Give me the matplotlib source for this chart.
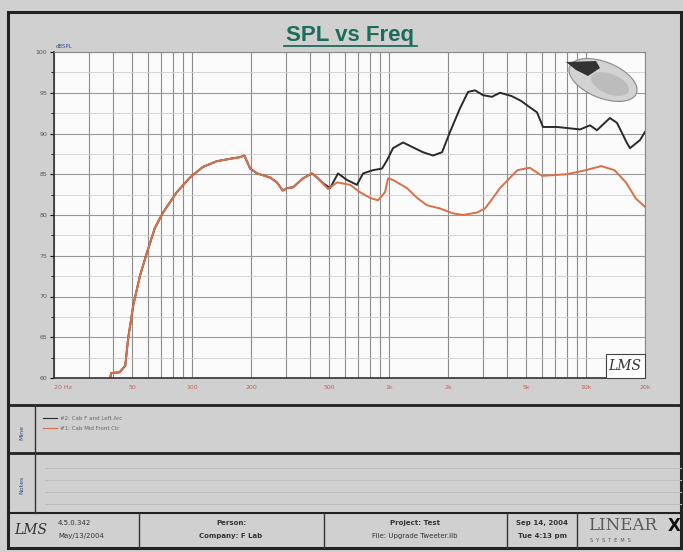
import matplotlib.pyplot as plt
from matplotlib.patches import Ellipse, Polygon, Rectangle

W, H = 683, 552

# curve #2 (black)
freq_black = [36, 39, 43, 46, 47.6, 50.5, 54.7, 59.3, 65, 71.5, 84, 98, 114, 134, 157, 176, 185,
              198, 215, 250, 271, 290, 305, 327, 367, 408, 433, 464, 504, 553, 614, 690, 741,
              832, 925, 980, 1052, 1183, 1328, 1493, 1679, 1866, 2048, 2302, 2528, 2742, 3014,
              3342, 3672, 4200, 4700, 5214, 5660, 6070, 7150, 9360, 10520, 11400, 13270, 14420,
              16220, 16780, 18880, 20000]
spl_black = [56, 60.6, 60.7, 61.5, 64.9, 68.9, 72.6, 75.4, 78.4, 80.3, 82.8, 84.6, 85.9, 86.6, 86.9,
             87.1, 87.3, 85.7, 85.1, 84.6, 84.0, 83.0, 83.3, 83.4, 84.5, 85.1, 84.6, 83.9, 83.3,
             85.1, 84.3, 83.7, 85.1, 85.5, 85.7, 86.7, 88.2, 88.9, 88.3, 87.7, 87.3, 87.7, 90.2,
             93.1, 95.1, 95.3, 94.7, 94.5, 95.0, 94.6, 94.0, 93.2, 92.6, 90.8, 90.8, 90.5, 91.0,
             90.4, 91.9, 91.3, 88.8, 88.2, 89.2, 90.2]

# curve #1 (red)
freq_red = [36, 39, 43, 46, 47.6, 50.5, 54.7, 59.3, 65, 71.5, 84, 98, 114, 134, 157, 176, 185,
            198, 215, 250, 271, 290, 305, 327, 367, 408, 433, 492, 547, 637, 715, 804, 883, 958,
            992, 1052, 1238, 1393, 1564, 1820, 2120, 2380, 2806, 3084, 3383, 3672, 4500, 5200,
            6000, 8000, 10000, 12000, 14000, 16000, 18000, 20000]
spl_red = [56, 60.6, 60.7, 61.5, 64.9, 68.9, 72.6, 75.4, 78.4, 80.3, 82.8, 84.6, 85.9, 86.6, 86.9,
           87.1, 87.3, 85.7, 85.1, 84.6, 84.0, 83.0, 83.3, 83.4, 84.5, 85.1, 84.6, 83.2, 84.0,
           83.7, 82.8, 82.1, 81.8, 82.8, 84.5, 84.3, 83.3, 82.1, 81.2, 80.8, 80.2, 80.0, 80.3,
           80.8, 82.1, 83.3, 85.5, 85.8, 84.8, 85.0, 85.5, 86.0, 85.5, 84.0, 82.0, 81.0]

x_ticks = [20, 50, 100, 200, 500, 1000, 2000, 5000, 10000, 20000]
x_tick_labels = ["20 Hz", "50", "100", "200", "500", "1k", "2k", "5k", "10k", "20k"]
y_ticks = [60, 65, 70, 75, 80, 85, 90, 95, 100]
legend_labels = ["#2: Cab F and Left Arc", "#1: Cab Mid Front Ctr"]
legend_colors = ["#2a2a2a", "#d8704a"]

fig = plt.figure(figsize=(W / 100, H / 100), dpi=100)
fig.patch.set_facecolor("#d0d0d0")

bg = fig.add_axes([0, 0, 1, 1])
bg.set_xlim(0, W)
bg.set_ylim(H, 0)
bg.axis("off")

# page frame and panels
bg.add_patch(Rectangle((8, 12), 673, 536, fill=False, lw=2.2, ec="#222222"))
bg.plot([8, 681], [405, 405], color="#222222", lw=2)
bg.plot([8, 681], [453, 453], color="#222222", lw=2)
bg.plot([8, 681], [513, 513], color="#222222", lw=1.5)
bg.plot([35, 35], [405, 513], color="#333333", lw=1)
for x in [139, 324, 507, 577]:
    bg.plot([x, x], [513, 548], color="#333333", lw=1)
for y in [468, 480, 492, 504]:
    bg.plot([45, 681], [y, y], color="#bdbdbd", lw=0.7)

bg.text(350, 36, "SPL vs Freq", ha="center", va="center", fontsize=16, fontweight="bold",
        color="#1d6b5c", family="Liberation Sans")
bg.plot([284, 417], [46, 46], color="#1d6b5c", lw=1.3)
bg.text(56, 46, "dBSPL", fontsize=4, color="#3a4f8a", va="center")

bg.text(22, 432, "Mine", rotation=90, ha="center", va="center", fontsize=4.5, color="#2d4a7a")
bg.text(22, 485, "Notes", rotation=90, ha="center", va="center", fontsize=4.5, color="#2d4a7a")
for i, (lab, col) in enumerate(zip(legend_labels, legend_colors)):
    y = 418 + 10 * i
    bg.plot([43, 57], [y, y], color=col, lw=0.8)
    bg.text(60, y, lab, fontsize=4, color="#666666", va="center")

# footer
bg.text(31, 530, "LMS", fontsize=10, style="italic", family="DejaVu Serif", color="#333333",
        ha="center", va="center")
bg.text(58, 523, "4.5.0.342", fontsize=5, color="#333333", va="center")
bg.text(58, 536, "May/13/2004", fontsize=5, color="#333333", va="center")
bg.text(231, 523, "Person:", fontsize=5, fontweight="bold", color="#333333", ha="center", va="center")
bg.text(231, 536, "Company: F Lab", fontsize=5, fontweight="bold", color="#333333", ha="center", va="center")
bg.text(415, 523, "Project: Test", fontsize=5, fontweight="bold", color="#333333", ha="center", va="center")
bg.text(415, 536, "File: Upgrade Tweeter.lib", fontsize=5, color="#333333", ha="center", va="center")
bg.text(542, 523, "Sep 14, 2004", fontsize=5, fontweight="bold", color="#333333", ha="center", va="center")
bg.text(542, 536, "Tue 4:13 pm", fontsize=5, fontweight="bold", color="#333333", ha="center", va="center")
bg.text(588, 526, "LINEAR", fontsize=12, family="DejaVu Serif", color="#5a5a5a", va="center")
bg.text(668, 526, "X", fontsize=12, fontweight="bold", color="#111111", va="center")
bg.text(590, 541, "S  Y  S  T  E  M  S", fontsize=3.5, color="#555555", va="center")

# main plot
ax = fig.add_axes([54 / W, 1 - 378 / H, 591 / W, 326 / H])
ax.set_facecolor("#fbfbfb")
ax.set_xscale("log")
ax.set_xlim(20, 20000)
ax.set_ylim(60, 100)
ax.set_xticks(x_ticks)
ax.set_xticklabels(x_tick_labels)
ax.set_yticks(y_ticks)
ax.set_yticks([v + 2.5 for v in y_ticks[:-1]], minor=True)
ax.grid(True, which="both", axis="x", color="#8c8c8c", lw=0.8)
ax.grid(True, which="major", axis="y", color="#9a9a9a", lw=0.8)
ax.grid(True, which="minor", axis="y", color="#cfcfcf", lw=0.6)
ax.tick_params(axis="x", which="both", length=0, labelsize=4.5, labelcolor="#c4625c", pad=5)
ax.tick_params(axis="y", which="major", length=3, labelsize=4.5, labelcolor="#555555", pad=2)
ax.tick_params(axis="y", which="minor", length=2)
ax.get_xticklabels()[0].set_ha("left")
for s in ["left", "bottom"]:
    ax.spines[s].set_color("#333333")
    ax.spines[s].set_linewidth(1.2)
for s in ["top", "right"]:
    ax.spines[s].set_color("#888888")

ax.plot(freq_black, spl_black, color="#2a2a2a", lw=1.4)
ax.plot(freq_red, spl_red, color="#d8704a", lw=1.4)

# overlay: speaker picture and LMS stamp
top = fig.add_axes([0, 0, 1, 1], zorder=5)
top.set_xlim(0, W)
top.set_ylim(H, 0)
top.axis("off")
top.patch.set_alpha(0)
top.add_patch(Ellipse((603, 80), 72, 36, angle=22, fc="#d2d2d2", ec="#8a8a8a", lw=0.8))
top.add_patch(Ellipse((610, 84), 40, 20, angle=22, fc="#bcbcbc", ec="none"))
top.add_patch(Polygon([(566, 62), (596, 61), (600, 68), (588, 76), (576, 70)], fc="#333333", ec="none"))
top.add_patch(Rectangle((606, 354), 39, 24, fc="#ffffff", ec="#444444", lw=0.8))
top.text(625, 366, "LMS", fontsize=10, style="italic", family="DejaVu Serif", color="#333333",
         ha="center", va="center")

fig.savefig("out.png", dpi=100, facecolor=fig.get_facecolor())
